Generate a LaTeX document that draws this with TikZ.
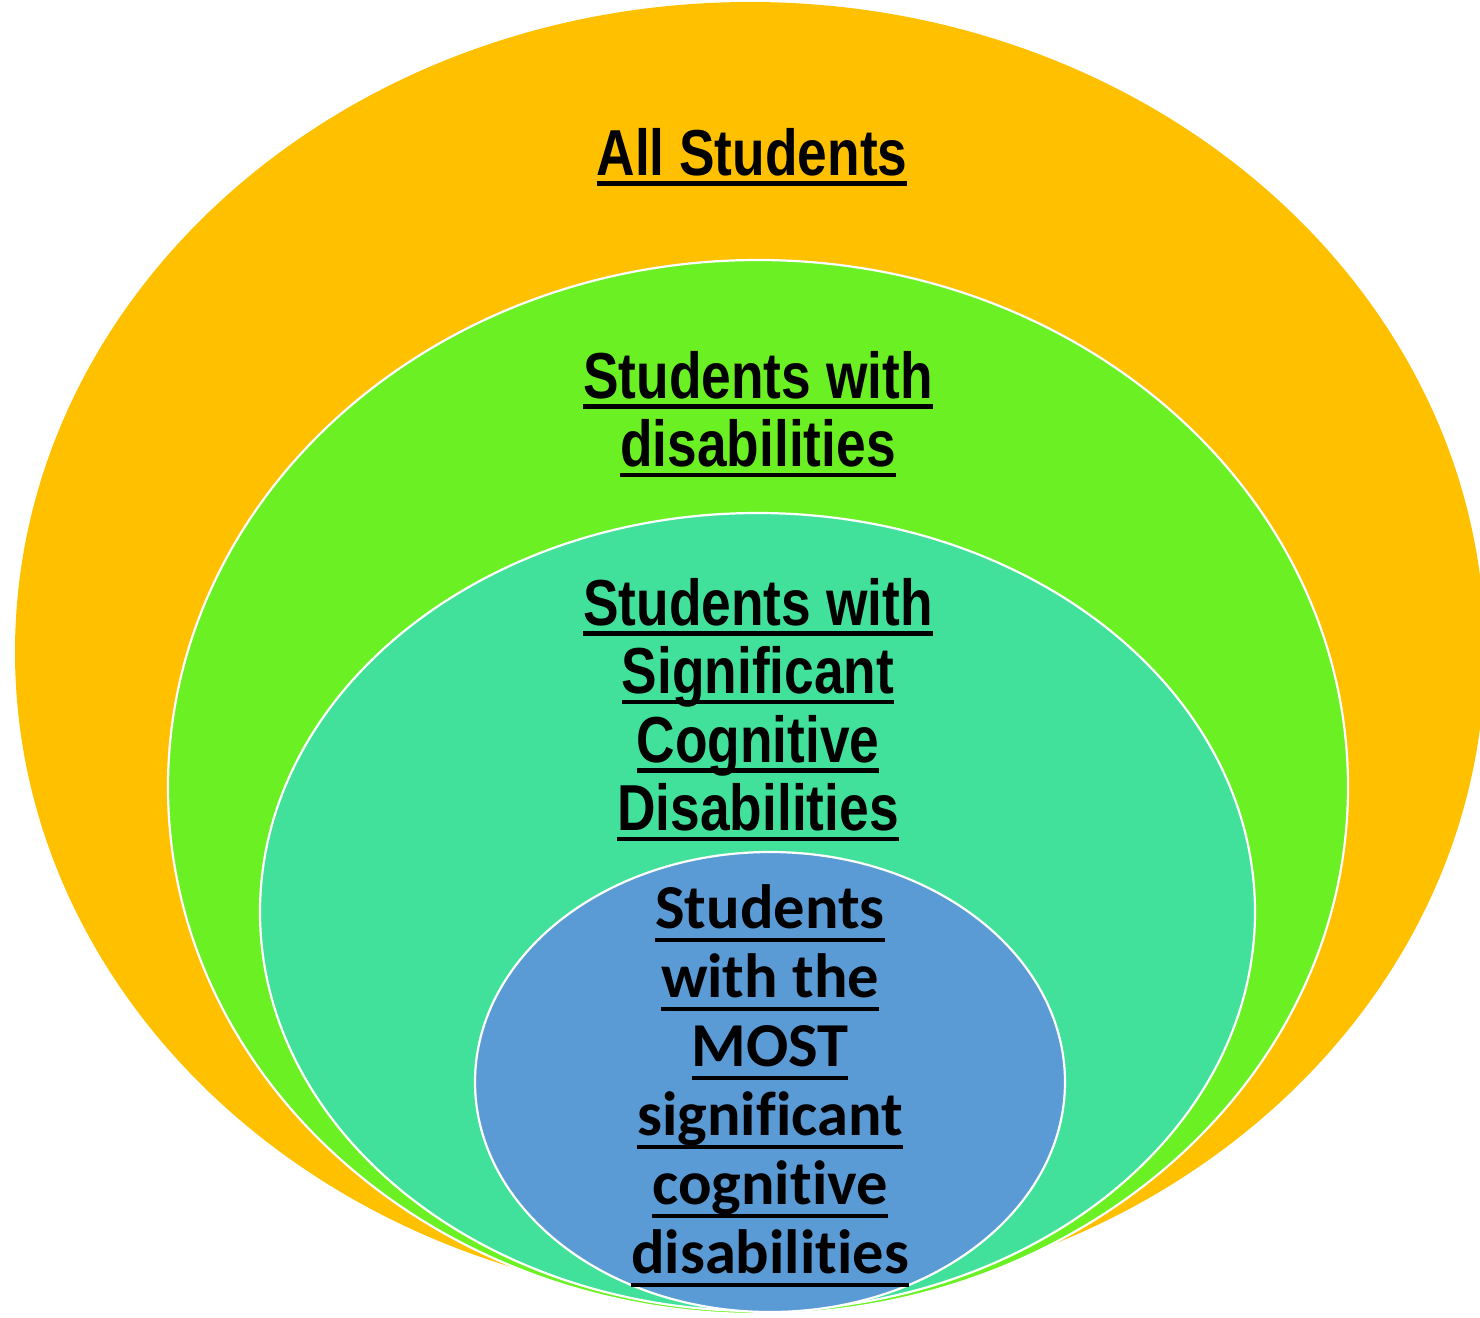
\documentclass[tikz,border=0pt]{standalone}
\usepackage{fontspec}
\newfontfamily\narrowfam[FakeStretch=0.82]{Liberation Sans}
\newfontfamily\calfam[Ligatures=NoCommon]{Carlito}
\definecolor{allc}{HTML}{FFC000}
\definecolor{disc}{HTML}{6AF023}
\definecolor{sigc}{HTML}{42E19B}
\definecolor{mostc}{HTML}{5B9BD5}
\newdimen\ulpos \newdimen\ulthick
\newcommand\uln[1]{\setbox0=\hbox{#1}\rlap{\rule[-\ulpos]{\wd0}{\ulthick}}\box0}
\newcommand\narrowlabel{\narrowfam\bfseries\fontsize{65pt}{68.5pt}\selectfont\ulpos=0.16em\ulthick=0.07em}
\newcommand\callabel{\calfam\bfseries\fontsize{62.5pt}{69pt}\selectfont\ulpos=0.225em\ulthick=0.065em}
\begin{document}
\begin{tikzpicture}[x=1pt,y=-1pt,
  ring/.style={draw=white,line width=2.2pt},
  lab/.style={inner sep=0pt,align=center,text=black,anchor=north}]
\useasboundingbox (0,0) rectangle (1480,1317);
\fill[allc] (750,652) ellipse [x radius=735, y radius=650];
\fill[disc] (758,787) ellipse [x radius=590, y radius=527];
\draw[ring] (758,787) ellipse [x radius=590, y radius=527];
\fill[sigc] (757.5,912) ellipse [x radius=497.5, y radius=399];
\draw[ring] (757.5,912) ellipse [x radius=497.5, y radius=399];
\fill[mostc] (770,1082) ellipse [x radius=295, y radius=230];
\draw[ring] (770,1082) ellipse [x radius=295, y radius=230];
\node[lab,font=\narrowlabel] (all) at (752,128) {\uln{All Students}};
\node[lab,font=\narrowlabel] (dis) at (758,351) {\uln{Students with}\\\uln{disabilities}};
\node[lab,font=\narrowlabel] (sig) at (758,578) {\uln{Students with}\\\uln{Significant}\\\uln{Cognitive}\\\uln{Disabilities}};
\node[lab,font=\callabel] (most) at (770,884) {\uln{Students}\\\uln{with the}\\\uln{MOST}\\\uln{significant}\\\uln{cognitive}\\\uln{disabilities}};
\end{tikzpicture}
\end{document}
